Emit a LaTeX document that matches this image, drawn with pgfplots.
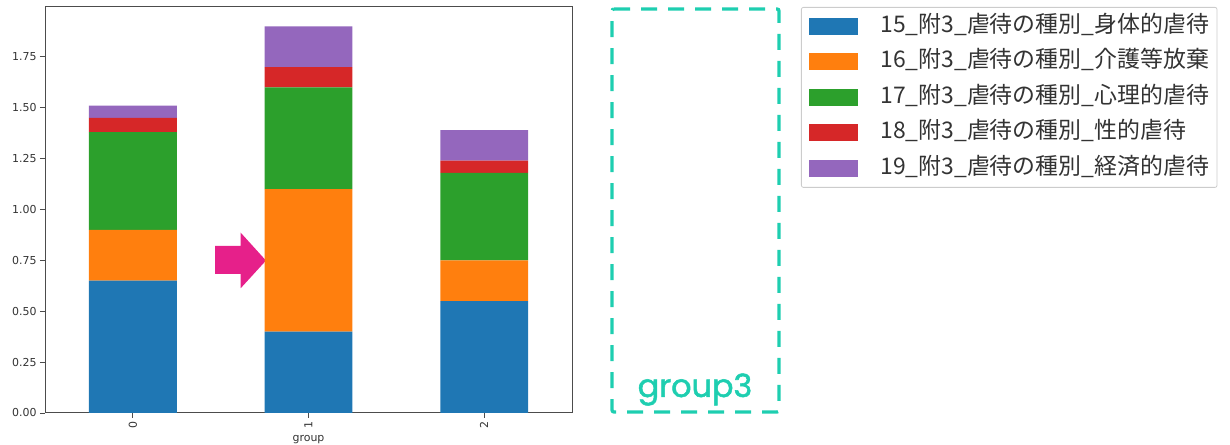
\documentclass[border=0pt]{standalone}
\usepackage{fontspec}
\setmainfont{DejaVu Sans}
\newfontfamily\cjk{Noto Sans CJK JP}
\newfontfamily\pop[FakeBold=1.6]{Poppins}
\usepackage{pgfplots}
\usepackage{pgfplotstable}
\pgfplotsset{compat=1.18}
\definecolor{c1}{HTML}{1F77B4}
\definecolor{c2}{HTML}{FF7F0E}
\definecolor{c3}{HTML}{2CA02C}
\definecolor{c4}{HTML}{D62728}
\definecolor{c5}{HTML}{9467BD}
\definecolor{teal3}{RGB}{30,206,176}
\definecolor{arrowc}{RGB}{230,32,138}
\pgfplotstableread{
x a b c d e
0 0.65 0.25 0.48 0.07 0.06
1 0.40 0.70 0.50 0.10 0.20
2 0.55 0.20 0.43 0.06 0.15
}\data
\begin{document}
\begin{tikzpicture}[x=1bp,y=1bp]
\path[use as bounding box] (0,0) rectangle (1230,445);
\begin{axis}[
  at={(45bp,32bp)}, anchor=south west,
  scale only axis, width=527bp, height=406bp,
  ybar stacked, bar width=0.5,
  xmin=-0.5, xmax=2.5, ymin=0, ymax=1.995,
  xtick={0,1,2}, xticklabels={0,1,2},
  ytick={0,0.25,...,1.75},
  yticklabel style={/pgf/number format/.cd, fixed, fixed zerofill, precision=2},
  /pgf/number format/assume math mode=true,
  xticklabel style={rotate=90, anchor=east},
  tick label style={font=\fontsize{11}{13}\selectfont, text=black!80},
  tick align=outside, major tick length=5bp,
  tick style={black!70, line width=0.8bp},
  xtick pos=bottom, ytick pos=left,
  axis line style={black!70, line width=1bp},
  xlabel={group},
  xlabel style={font=\fontsize{11}{13}\selectfont, text=black!80, at={(axis description cs:0.5,0)}, anchor=north, yshift=-19bp},
  legend cell align=left,
  legend style={at={(axis description cs:1.4345,1.0)}, anchor=north west,
    draw=black!20, line width=0.8bp, rounded corners=2bp,
    font=\cjk\fontsize{23}{28}\selectfont, text=black!80,
    inner xsep=8bp, inner ysep=7bp, row sep=11.5bp, column sep=22bp,
    nodes={inner sep=0pt, text height=18bp, text depth=6bp, anchor=west}},
  legend image code/.code={\fill[#1,draw=none,sharp corners] (0bp,-8.5bp) rectangle (49bp,8.5bp);},
]
\addplot[fill=c1, draw=none] table[x=x,y=a]{\data};
\addplot[fill=c2, draw=none] table[x=x,y=b]{\data};
\addplot[fill=c3, draw=none] table[x=x,y=c]{\data};
\addplot[fill=c4, draw=none] table[x=x,y=d]{\data};
\addplot[fill=c5, draw=none] table[x=x,y=e]{\data};
\legend{15\_附3\_虐待の種別\_身体的虐待,16\_附3\_虐待の種別\_介護等放棄,17\_附3\_虐待の種別\_心理的虐待,18\_附3\_虐待の種別\_性的虐待,19\_附3\_虐待の種別\_経済的虐待}
\fill[arrowc] (axis cs:0.468,0.821) -- (axis cs:0.614,0.821) -- (axis cs:0.614,0.886) -- (axis cs:0.758,0.749) -- (axis cs:0.614,0.613) -- (axis cs:0.614,0.683) -- (axis cs:0.468,0.683) -- cycle;
\end{axis}
\draw[teal3, line width=3.3bp, dash pattern=on 16bp off 11bp, rounded corners=2bp] (612,436) -- (779,436) -- (779,33) -- (612,33) -- cycle;
\node[anchor=base, text=teal3, font=\pop\fontsize{32}{36}\selectfont, inner sep=0pt] at (695,48) {group3};
\end{tikzpicture}
\end{document}
